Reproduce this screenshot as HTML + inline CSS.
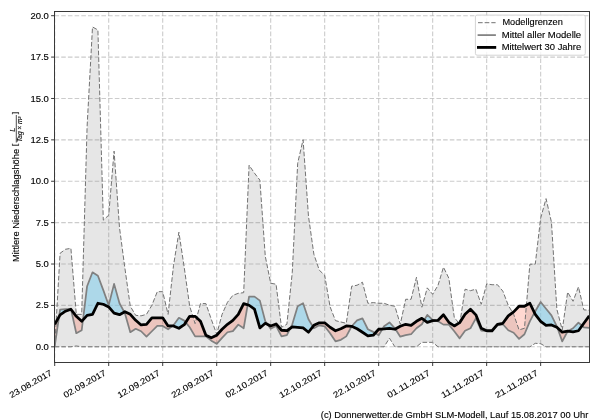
<!DOCTYPE html>
<html><head><meta charset="utf-8"><title>chart</title>
<style>html,body{margin:0;padding:0;background:#fff;width:600px;height:420px;overflow:hidden}
body{position:relative;font-family:"Liberation Sans",sans-serif}</style></head>
<body>
<svg width="600" height="420" viewBox="0 0 600 420" style="position:absolute;left:0;top:0;will-change:transform">
<rect width="600" height="420" fill="#fff"/>
<defs><clipPath id="ax"><rect x="54.5" y="11.5" width="535.0" height="351.0"/></clipPath></defs>
<g clip-path="url(#ax)">
<line x1="54.70" y1="11.5" x2="54.70" y2="362.5" stroke="#b0b0b0" stroke-opacity="0.65" stroke-width="1.11" stroke-dasharray="4.6 2.1"/>
<line x1="108.69" y1="11.5" x2="108.69" y2="362.5" stroke="#b0b0b0" stroke-opacity="0.65" stroke-width="1.11" stroke-dasharray="4.6 2.1"/>
<line x1="162.69" y1="11.5" x2="162.69" y2="362.5" stroke="#b0b0b0" stroke-opacity="0.65" stroke-width="1.11" stroke-dasharray="4.6 2.1"/>
<line x1="216.69" y1="11.5" x2="216.69" y2="362.5" stroke="#b0b0b0" stroke-opacity="0.65" stroke-width="1.11" stroke-dasharray="4.6 2.1"/>
<line x1="270.68" y1="11.5" x2="270.68" y2="362.5" stroke="#b0b0b0" stroke-opacity="0.65" stroke-width="1.11" stroke-dasharray="4.6 2.1"/>
<line x1="324.67" y1="11.5" x2="324.67" y2="362.5" stroke="#b0b0b0" stroke-opacity="0.65" stroke-width="1.11" stroke-dasharray="4.6 2.1"/>
<line x1="378.67" y1="11.5" x2="378.67" y2="362.5" stroke="#b0b0b0" stroke-opacity="0.65" stroke-width="1.11" stroke-dasharray="4.6 2.1"/>
<line x1="432.66" y1="11.5" x2="432.66" y2="362.5" stroke="#b0b0b0" stroke-opacity="0.65" stroke-width="1.11" stroke-dasharray="4.6 2.1"/>
<line x1="486.66" y1="11.5" x2="486.66" y2="362.5" stroke="#b0b0b0" stroke-opacity="0.65" stroke-width="1.11" stroke-dasharray="4.6 2.1"/>
<line x1="540.65" y1="11.5" x2="540.65" y2="362.5" stroke="#b0b0b0" stroke-opacity="0.65" stroke-width="1.11" stroke-dasharray="4.6 2.1"/>
<line x1="54.5" y1="346.80" x2="589.5" y2="346.80" stroke="#b0b0b0" stroke-opacity="0.65" stroke-width="1.11" stroke-dasharray="4.6 2.1"/>
<line x1="54.5" y1="305.41" x2="589.5" y2="305.41" stroke="#b0b0b0" stroke-opacity="0.65" stroke-width="1.11" stroke-dasharray="4.6 2.1"/>
<line x1="54.5" y1="264.02" x2="589.5" y2="264.02" stroke="#b0b0b0" stroke-opacity="0.65" stroke-width="1.11" stroke-dasharray="4.6 2.1"/>
<line x1="54.5" y1="222.64" x2="589.5" y2="222.64" stroke="#b0b0b0" stroke-opacity="0.65" stroke-width="1.11" stroke-dasharray="4.6 2.1"/>
<line x1="54.5" y1="181.25" x2="589.5" y2="181.25" stroke="#b0b0b0" stroke-opacity="0.65" stroke-width="1.11" stroke-dasharray="4.6 2.1"/>
<line x1="54.5" y1="139.86" x2="589.5" y2="139.86" stroke="#b0b0b0" stroke-opacity="0.65" stroke-width="1.11" stroke-dasharray="4.6 2.1"/>
<line x1="54.5" y1="98.48" x2="589.5" y2="98.48" stroke="#b0b0b0" stroke-opacity="0.65" stroke-width="1.11" stroke-dasharray="4.6 2.1"/>
<line x1="54.5" y1="57.09" x2="589.5" y2="57.09" stroke="#b0b0b0" stroke-opacity="0.65" stroke-width="1.11" stroke-dasharray="4.6 2.1"/>
<line x1="54.5" y1="15.70" x2="589.5" y2="15.70" stroke="#b0b0b0" stroke-opacity="0.65" stroke-width="1.11" stroke-dasharray="4.6 2.1"/>
<polygon points="54.70,346.80 60.10,253.26 65.50,249.29 70.90,248.30 76.30,314.35 81.70,314.35 87.10,126.62 92.50,26.96 97.90,29.94 103.30,220.15 108.69,215.19 114.09,151.12 119.49,227.60 124.89,268.16 130.29,306.24 135.69,315.35 141.09,315.84 146.49,314.35 151.89,305.25 157.29,291.67 162.69,291.67 168.09,314.35 173.49,265.68 178.89,232.24 184.29,267.83 189.69,306.24 195.09,323.62 200.49,303.59 205.89,303.59 211.29,319.32 216.69,334.22 222.08,314.35 227.48,302.27 232.88,295.31 238.28,293.33 243.68,292.67 249.08,165.19 254.48,173.14 259.88,180.09 265.28,256.24 270.68,283.23 276.08,284.22 281.48,327.27 286.88,324.29 292.28,272.30 297.68,163.21 303.08,139.70 308.48,216.18 313.88,254.26 319.28,270.15 324.67,275.28 330.07,306.74 335.47,320.64 340.87,321.97 346.27,323.29 351.67,286.21 357.07,285.22 362.47,282.24 367.87,303.26 373.27,302.60 378.67,303.26 384.07,303.26 389.47,305.25 394.87,306.24 400.27,324.29 405.67,299.29 411.07,299.29 416.47,277.27 421.87,307.23 427.27,287.86 432.66,294.32 438.06,285.22 443.46,267.17 448.86,278.26 454.26,317.33 459.66,324.29 465.06,289.19 470.46,290.68 475.86,289.19 481.26,304.25 486.66,283.89 492.06,284.72 497.46,284.72 502.86,291.18 508.26,305.25 513.66,314.35 519.06,329.91 524.46,328.26 529.86,264.19 535.26,264.19 540.65,218.17 546.05,198.63 551.45,222.14 556.85,309.22 562.25,329.91 567.65,292.17 573.05,301.27 578.45,286.87 583.85,309.88 589.25,310.21 589.25,346.80 583.85,346.80 578.45,346.80 573.05,346.80 567.65,346.80 562.25,346.80 556.85,346.80 551.45,346.80 546.05,346.80 540.65,343.65 535.26,343.32 529.86,346.80 524.46,346.80 519.06,346.80 513.66,346.80 508.26,346.80 502.86,346.80 497.46,346.80 492.06,346.80 486.66,346.80 481.26,346.80 475.86,346.80 470.46,346.80 465.06,346.80 459.66,346.80 454.26,346.80 448.86,346.80 443.46,346.80 438.06,346.80 432.66,342.33 427.27,342.33 421.87,342.33 416.47,346.80 411.07,346.80 405.67,346.80 400.27,346.80 394.87,346.80 389.47,338.19 384.07,346.80 378.67,346.80 373.27,346.80 367.87,346.80 362.47,346.80 357.07,346.80 351.67,346.80 346.27,346.80 340.87,346.80 335.47,346.80 330.07,346.80 324.67,346.80 319.28,346.80 313.88,346.80 308.48,346.80 303.08,346.80 297.68,346.80 292.28,346.80 286.88,346.80 281.48,346.80 276.08,346.80 270.68,346.80 265.28,346.80 259.88,346.80 254.48,346.80 249.08,346.80 243.68,346.80 238.28,346.80 232.88,346.80 227.48,346.80 222.08,346.80 216.69,346.80 211.29,346.80 205.89,346.80 200.49,346.80 195.09,346.80 189.69,346.80 184.29,346.80 178.89,346.80 173.49,346.80 168.09,346.80 162.69,346.80 157.29,346.80 151.89,346.80 146.49,346.80 141.09,346.80 135.69,346.80 130.29,346.80 124.89,346.80 119.49,346.80 114.09,346.80 108.69,346.80 103.30,346.80 97.90,346.80 92.50,346.80 87.10,346.80 81.70,346.80 76.30,345.97 70.90,346.80 65.50,346.80 60.10,346.80 54.70,346.80" fill="#808080" fill-opacity="0.2" stroke="none"/>
<path d="M59.08,316.63 L60.10,309.72 L65.50,309.22 L70.90,308.89 L71.00,309.36 L71.00,309.36 L70.90,309.22 L65.50,311.21 L60.10,314.85 L59.08,316.63Z M82.97,319.91 L87.10,286.21 L92.50,272.30 L97.90,275.78 L103.30,290.18 L108.69,305.25 L114.09,283.89 L119.49,303.26 L124.27,312.05 L124.27,312.05 L119.49,314.68 L114.09,313.19 L108.69,306.90 L103.30,304.25 L97.90,303.26 L92.50,314.35 L87.10,315.35 L82.97,319.91Z M172.59,325.94 L173.49,325.28 L178.89,317.83 L184.29,320.64 L185.73,322.41 L185.73,322.41 L184.29,324.62 L178.89,328.26 L173.49,325.94 L172.59,325.94Z M247.69,304.82 L249.08,296.64 L254.48,296.64 L259.88,300.61 L265.28,321.31 L267.51,324.39 L267.51,324.39 L265.28,323.29 L259.88,327.93 L254.48,309.22 L249.08,305.25 L247.69,304.82Z M290.27,328.35 L292.28,324.29 L297.68,306.24 L303.08,303.26 L308.48,319.32 L312.86,326.58 L312.86,326.58 L308.48,332.23 L303.08,327.93 L297.68,327.27 L292.28,326.93 L290.27,328.35Z M351.67,326.27 L357.07,320.31 L362.47,318.33 L367.87,329.25 L373.27,331.90 L375.20,333.08 L375.20,333.08 L373.27,335.21 L367.87,335.87 L362.47,332.23 L357.07,328.76 L351.67,326.27Z M382.41,329.02 L384.07,326.27 L389.47,322.46 L394.87,328.26 L395.34,328.99 L395.34,328.99 L394.87,329.25 L389.47,328.26 L384.07,328.92 L382.41,329.02Z M424.27,320.09 L427.27,314.85 L432.66,319.82 L435.12,320.49 L435.12,320.49 L432.66,320.64 L427.27,322.30 L424.27,320.09Z M534.45,312.71 L535.26,311.21 L540.65,301.94 L546.05,308.72 L551.45,315.35 L556.85,326.27 L557.38,327.75 L557.38,327.75 L556.85,327.27 L551.45,324.95 L546.05,325.28 L540.65,321.31 L535.26,314.35 L534.45,312.71Z M567.65,331.24 L573.05,328.26 L578.45,322.63 L582.08,325.74 L582.08,325.74 L578.45,330.74 L573.05,331.90 L567.65,331.24Z" fill="#87ceeb" fill-opacity="0.6" stroke="none"/>
<path d="M54.70,346.30 L59.08,316.63 L59.08,316.63 L54.70,324.29Z M71.00,309.36 L76.30,333.22 L81.70,330.25 L82.97,319.91 L82.97,319.91 L81.70,321.31 L76.30,316.34 L71.00,309.36Z M124.27,312.05 L124.89,313.19 L130.29,332.23 L135.69,328.76 L141.09,331.24 L146.49,336.70 L151.89,331.24 L157.29,325.94 L162.69,325.94 L168.09,329.25 L172.59,325.94 L172.59,325.94 L168.09,325.94 L162.69,317.83 L157.29,317.83 L151.89,317.83 L146.49,324.29 L141.09,324.95 L135.69,320.31 L130.29,314.35 L124.89,311.70 L124.27,312.05Z M185.73,322.41 L189.69,327.27 L195.09,336.37 L200.49,336.37 L205.89,336.37 L211.29,340.67 L216.69,343.82 L222.08,337.86 L227.48,332.23 L232.88,331.07 L238.28,324.62 L243.68,328.26 L247.69,304.82 L247.69,304.82 L243.68,303.59 L238.28,314.35 L232.88,320.31 L227.48,324.29 L222.08,329.25 L216.69,335.21 L211.29,337.86 L205.89,335.21 L200.49,321.31 L195.09,316.34 L189.69,316.34 L185.73,322.41Z M267.51,324.39 L270.68,328.76 L276.08,325.94 L281.48,336.37 L286.88,335.21 L290.27,328.35 L290.27,328.35 L286.88,330.74 L281.48,330.25 L276.08,323.95 L270.68,325.94 L267.51,324.39Z M312.86,326.58 L313.88,328.26 L319.28,325.28 L324.67,326.27 L330.07,333.22 L335.47,341.34 L340.87,339.85 L346.27,336.37 L351.67,326.27 L351.67,326.27 L346.27,325.94 L340.87,328.76 L335.47,330.74 L330.07,327.27 L324.67,322.80 L319.28,322.80 L313.88,325.28 L312.86,326.58Z M375.20,333.08 L378.67,335.21 L382.41,329.02 L382.41,329.02 L378.67,329.25 L375.20,333.08Z M395.34,328.99 L400.27,336.70 L405.67,335.21 L411.07,334.22 L416.47,328.26 L421.87,324.29 L424.27,320.09 L424.27,320.09 L421.87,318.33 L416.47,321.31 L411.07,325.28 L405.67,324.29 L400.27,326.27 L395.34,328.99Z M435.12,320.49 L438.06,321.31 L443.46,324.62 L448.86,324.62 L454.26,331.24 L459.66,338.36 L465.06,330.74 L470.46,328.26 L475.86,318.33 L481.26,330.74 L486.66,331.24 L492.06,330.74 L492.06,330.74 L486.66,330.74 L481.26,328.26 L475.86,314.85 L470.46,309.22 L465.06,314.35 L459.66,322.63 L454.26,325.94 L448.86,322.30 L443.46,314.68 L438.06,320.31 L435.12,320.49Z M492.06,330.74 L497.46,325.28 L502.86,324.29 L508.26,330.25 L513.66,332.73 L519.06,338.85 L524.46,334.22 L529.86,321.31 L534.45,312.71 L534.45,312.71 L529.86,303.26 L524.46,306.24 L519.06,306.24 L513.66,311.87 L508.26,315.84 L502.86,323.29 L497.46,324.29 L492.06,330.74Z M557.38,327.75 L562.25,341.34 L567.65,331.24 L567.65,331.24 L562.25,332.23 L557.38,327.75Z M582.08,325.74 L583.85,327.27 L589.25,327.93 L589.25,315.84 L583.85,323.29 L582.08,325.74Z" fill="#ff6347" fill-opacity="0.25" stroke="none"/>
<polyline points="54.70,346.80 60.10,253.26 65.50,249.29 70.90,248.30 76.30,314.35 81.70,314.35 87.10,126.62 92.50,26.96 97.90,29.94 103.30,220.15 108.69,215.19 114.09,151.12 119.49,227.60 124.89,268.16 130.29,306.24 135.69,315.35 141.09,315.84 146.49,314.35 151.89,305.25 157.29,291.67 162.69,291.67 168.09,314.35 173.49,265.68 178.89,232.24 184.29,267.83 189.69,306.24 195.09,323.62 200.49,303.59 205.89,303.59 211.29,319.32 216.69,334.22 222.08,314.35 227.48,302.27 232.88,295.31 238.28,293.33 243.68,292.67 249.08,165.19 254.48,173.14 259.88,180.09 265.28,256.24 270.68,283.23 276.08,284.22 281.48,327.27 286.88,324.29 292.28,272.30 297.68,163.21 303.08,139.70 308.48,216.18 313.88,254.26 319.28,270.15 324.67,275.28 330.07,306.74 335.47,320.64 340.87,321.97 346.27,323.29 351.67,286.21 357.07,285.22 362.47,282.24 367.87,303.26 373.27,302.60 378.67,303.26 384.07,303.26 389.47,305.25 394.87,306.24 400.27,324.29 405.67,299.29 411.07,299.29 416.47,277.27 421.87,307.23 427.27,287.86 432.66,294.32 438.06,285.22 443.46,267.17 448.86,278.26 454.26,317.33 459.66,324.29 465.06,289.19 470.46,290.68 475.86,289.19 481.26,304.25 486.66,283.89 492.06,284.72 497.46,284.72 502.86,291.18 508.26,305.25 513.66,314.35 519.06,329.91 524.46,328.26 529.86,264.19 535.26,264.19 540.65,218.17 546.05,198.63 551.45,222.14 556.85,309.22 562.25,329.91 567.65,292.17 573.05,301.27 578.45,286.87 583.85,309.88 589.25,310.21" fill="none" stroke="#727272" stroke-width="1.0" stroke-dasharray="4.65 2.0" stroke-linejoin="round"/>
<polyline points="54.70,346.80 60.10,346.80 65.50,346.80 70.90,346.80 76.30,345.97 81.70,346.80 87.10,346.80 92.50,346.80 97.90,346.80 103.30,346.80 108.69,346.80 114.09,346.80 119.49,346.80 124.89,346.80 130.29,346.80 135.69,346.80 141.09,346.80 146.49,346.80 151.89,346.80 157.29,346.80 162.69,346.80 168.09,346.80 173.49,346.80 178.89,346.80 184.29,346.80 189.69,346.80 195.09,346.80 200.49,346.80 205.89,346.80 211.29,346.80 216.69,346.80 222.08,346.80 227.48,346.80 232.88,346.80 238.28,346.80 243.68,346.80 249.08,346.80 254.48,346.80 259.88,346.80 265.28,346.80 270.68,346.80 276.08,346.80 281.48,346.80 286.88,346.80 292.28,346.80 297.68,346.80 303.08,346.80 308.48,346.80 313.88,346.80 319.28,346.80 324.67,346.80 330.07,346.80 335.47,346.80 340.87,346.80 346.27,346.80 351.67,346.80 357.07,346.80 362.47,346.80 367.87,346.80 373.27,346.80 378.67,346.80 384.07,346.80 389.47,338.19 394.87,346.80 400.27,346.80 405.67,346.80 411.07,346.80 416.47,346.80 421.87,342.33 427.27,342.33 432.66,342.33 438.06,346.80 443.46,346.80 448.86,346.80 454.26,346.80 459.66,346.80 465.06,346.80 470.46,346.80 475.86,346.80 481.26,346.80 486.66,346.80 492.06,346.80 497.46,346.80 502.86,346.80 508.26,346.80 513.66,346.80 519.06,346.80 524.46,346.80 529.86,346.80 535.26,343.32 540.65,343.65 546.05,346.80 551.45,346.80 556.85,346.80 562.25,346.80 567.65,346.80 573.05,346.80 578.45,346.80 583.85,346.80 589.25,346.80" fill="none" stroke="#727272" stroke-width="1.0" stroke-dasharray="4.65 2.0" stroke-linejoin="round"/>
<polyline points="54.70,346.30 60.10,309.72 65.50,309.22 70.90,308.89 76.30,333.22 81.70,330.25 87.10,286.21 92.50,272.30 97.90,275.78 103.30,290.18 108.69,305.25 114.09,283.89 119.49,303.26 124.89,313.19 130.29,332.23 135.69,328.76 141.09,331.24 146.49,336.70 151.89,331.24 157.29,325.94 162.69,325.94 168.09,329.25 173.49,325.28 178.89,317.83 184.29,320.64 189.69,327.27 195.09,336.37 200.49,336.37 205.89,336.37 211.29,340.67 216.69,343.82 222.08,337.86 227.48,332.23 232.88,331.07 238.28,324.62 243.68,328.26 249.08,296.64 254.48,296.64 259.88,300.61 265.28,321.31 270.68,328.76 276.08,325.94 281.48,336.37 286.88,335.21 292.28,324.29 297.68,306.24 303.08,303.26 308.48,319.32 313.88,328.26 319.28,325.28 324.67,326.27 330.07,333.22 335.47,341.34 340.87,339.85 346.27,336.37 351.67,326.27 357.07,320.31 362.47,318.33 367.87,329.25 373.27,331.90 378.67,335.21 384.07,326.27 389.47,322.46 394.87,328.26 400.27,336.70 405.67,335.21 411.07,334.22 416.47,328.26 421.87,324.29 427.27,314.85 432.66,319.82 438.06,321.31 443.46,324.62 448.86,324.62 454.26,331.24 459.66,338.36 465.06,330.74 470.46,328.26 475.86,318.33 481.26,330.74 486.66,331.24 492.06,330.74 497.46,325.28 502.86,324.29 508.26,330.25 513.66,332.73 519.06,338.85 524.46,334.22 529.86,321.31 535.26,311.21 540.65,301.94 546.05,308.72 551.45,315.35 556.85,326.27 562.25,341.34 567.65,331.24 573.05,328.26 578.45,322.63 583.85,327.27 589.25,327.93" fill="none" stroke="#808080" stroke-width="1.74" stroke-linejoin="round"/>
<polyline points="54.70,324.29 60.10,314.85 65.50,311.21 70.90,309.22 76.30,316.34 81.70,321.31 87.10,315.35 92.50,314.35 97.90,303.26 103.30,304.25 108.69,306.90 114.09,313.19 119.49,314.68 124.89,311.70 130.29,314.35 135.69,320.31 141.09,324.95 146.49,324.29 151.89,317.83 157.29,317.83 162.69,317.83 168.09,325.94 173.49,325.94 178.89,328.26 184.29,324.62 189.69,316.34 195.09,316.34 200.49,321.31 205.89,335.21 211.29,337.86 216.69,335.21 222.08,329.25 227.48,324.29 232.88,320.31 238.28,314.35 243.68,303.59 249.08,305.25 254.48,309.22 259.88,327.93 265.28,323.29 270.68,325.94 276.08,323.95 281.48,330.25 286.88,330.74 292.28,326.93 297.68,327.27 303.08,327.93 308.48,332.23 313.88,325.28 319.28,322.80 324.67,322.80 330.07,327.27 335.47,330.74 340.87,328.76 346.27,325.94 351.67,326.27 357.07,328.76 362.47,332.23 367.87,335.87 373.27,335.21 378.67,329.25 384.07,328.92 389.47,328.26 394.87,329.25 400.27,326.27 405.67,324.29 411.07,325.28 416.47,321.31 421.87,318.33 427.27,322.30 432.66,320.64 438.06,320.31 443.46,314.68 448.86,322.30 454.26,325.94 459.66,322.63 465.06,314.35 470.46,309.22 475.86,314.85 481.26,328.26 486.66,330.74 492.06,330.74 497.46,324.29 502.86,323.29 508.26,315.84 513.66,311.87 519.06,306.24 524.46,306.24 529.86,303.26 535.26,314.35 540.65,321.31 546.05,325.28 551.45,324.95 556.85,327.27 562.25,332.23 567.65,331.24 573.05,331.90 578.45,330.74 583.85,323.29 589.25,315.84" fill="none" stroke="#000" stroke-width="2.78" stroke-linejoin="round" stroke-linecap="butt"/>
</g>
<rect x="54.5" y="11.5" width="535.0" height="351.0" fill="none" stroke="#303030" stroke-width="0.95"/>
<line x1="54.70" y1="362.5" x2="54.70" y2="366.0" stroke="#303030" stroke-width="0.95"/>
<line x1="108.69" y1="362.5" x2="108.69" y2="366.0" stroke="#303030" stroke-width="0.95"/>
<line x1="162.69" y1="362.5" x2="162.69" y2="366.0" stroke="#303030" stroke-width="0.95"/>
<line x1="216.69" y1="362.5" x2="216.69" y2="366.0" stroke="#303030" stroke-width="0.95"/>
<line x1="270.68" y1="362.5" x2="270.68" y2="366.0" stroke="#303030" stroke-width="0.95"/>
<line x1="324.67" y1="362.5" x2="324.67" y2="366.0" stroke="#303030" stroke-width="0.95"/>
<line x1="378.67" y1="362.5" x2="378.67" y2="366.0" stroke="#303030" stroke-width="0.95"/>
<line x1="432.66" y1="362.5" x2="432.66" y2="366.0" stroke="#303030" stroke-width="0.95"/>
<line x1="486.66" y1="362.5" x2="486.66" y2="366.0" stroke="#303030" stroke-width="0.95"/>
<line x1="540.65" y1="362.5" x2="540.65" y2="366.0" stroke="#303030" stroke-width="0.95"/>
<line x1="51.1" y1="346.80" x2="54.5" y2="346.80" stroke="#303030" stroke-width="0.95"/>
<line x1="51.1" y1="305.41" x2="54.5" y2="305.41" stroke="#303030" stroke-width="0.95"/>
<line x1="51.1" y1="264.02" x2="54.5" y2="264.02" stroke="#303030" stroke-width="0.95"/>
<line x1="51.1" y1="222.64" x2="54.5" y2="222.64" stroke="#303030" stroke-width="0.95"/>
<line x1="51.1" y1="181.25" x2="54.5" y2="181.25" stroke="#303030" stroke-width="0.95"/>
<line x1="51.1" y1="139.86" x2="54.5" y2="139.86" stroke="#303030" stroke-width="0.95"/>
<line x1="51.1" y1="98.48" x2="54.5" y2="98.48" stroke="#303030" stroke-width="0.95"/>
<line x1="51.1" y1="57.09" x2="54.5" y2="57.09" stroke="#303030" stroke-width="0.95"/>
<line x1="51.1" y1="15.70" x2="54.5" y2="15.70" stroke="#303030" stroke-width="0.95"/>
<text x="48.9" y="349.85" text-anchor="end" font-size="8.5" textLength="13.2" lengthAdjust="spacingAndGlyphs" font-family="Liberation Sans, sans-serif" fill="#000" stroke="#000" stroke-width="0.12">0.0</text>
<text x="48.9" y="308.46" text-anchor="end" font-size="8.5" textLength="13.2" lengthAdjust="spacingAndGlyphs" font-family="Liberation Sans, sans-serif" fill="#000" stroke="#000" stroke-width="0.12">2.5</text>
<text x="48.9" y="267.07" text-anchor="end" font-size="8.5" textLength="13.2" lengthAdjust="spacingAndGlyphs" font-family="Liberation Sans, sans-serif" fill="#000" stroke="#000" stroke-width="0.12">5.0</text>
<text x="48.9" y="225.69" text-anchor="end" font-size="8.5" textLength="13.2" lengthAdjust="spacingAndGlyphs" font-family="Liberation Sans, sans-serif" fill="#000" stroke="#000" stroke-width="0.12">7.5</text>
<text x="48.9" y="184.30" text-anchor="end" font-size="8.5" textLength="18.5" lengthAdjust="spacingAndGlyphs" font-family="Liberation Sans, sans-serif" fill="#000" stroke="#000" stroke-width="0.12">10.0</text>
<text x="48.9" y="142.91" text-anchor="end" font-size="8.5" textLength="18.5" lengthAdjust="spacingAndGlyphs" font-family="Liberation Sans, sans-serif" fill="#000" stroke="#000" stroke-width="0.12">12.5</text>
<text x="48.9" y="101.53" text-anchor="end" font-size="8.5" textLength="18.5" lengthAdjust="spacingAndGlyphs" font-family="Liberation Sans, sans-serif" fill="#000" stroke="#000" stroke-width="0.12">15.0</text>
<text x="48.9" y="60.14" text-anchor="end" font-size="8.5" textLength="18.5" lengthAdjust="spacingAndGlyphs" font-family="Liberation Sans, sans-serif" fill="#000" stroke="#000" stroke-width="0.12">17.5</text>
<text x="48.9" y="18.75" text-anchor="end" font-size="8.5" textLength="18.5" lengthAdjust="spacingAndGlyphs" font-family="Liberation Sans, sans-serif" fill="#000" stroke="#000" stroke-width="0.12">20.0</text>
<text transform="translate(52.70,374.50) rotate(-30)" text-anchor="end" font-size="8.5" textLength="47.7" lengthAdjust="spacingAndGlyphs" font-family="Liberation Sans, sans-serif" fill="#000" stroke="#000" stroke-width="0.12">23.08.2017</text>
<text transform="translate(106.69,374.50) rotate(-30)" text-anchor="end" font-size="8.5" textLength="47.7" lengthAdjust="spacingAndGlyphs" font-family="Liberation Sans, sans-serif" fill="#000" stroke="#000" stroke-width="0.12">02.09.2017</text>
<text transform="translate(160.69,374.50) rotate(-30)" text-anchor="end" font-size="8.5" textLength="47.7" lengthAdjust="spacingAndGlyphs" font-family="Liberation Sans, sans-serif" fill="#000" stroke="#000" stroke-width="0.12">12.09.2017</text>
<text transform="translate(214.69,374.50) rotate(-30)" text-anchor="end" font-size="8.5" textLength="47.7" lengthAdjust="spacingAndGlyphs" font-family="Liberation Sans, sans-serif" fill="#000" stroke="#000" stroke-width="0.12">22.09.2017</text>
<text transform="translate(268.68,374.50) rotate(-30)" text-anchor="end" font-size="8.5" textLength="47.7" lengthAdjust="spacingAndGlyphs" font-family="Liberation Sans, sans-serif" fill="#000" stroke="#000" stroke-width="0.12">02.10.2017</text>
<text transform="translate(322.67,374.50) rotate(-30)" text-anchor="end" font-size="8.5" textLength="47.7" lengthAdjust="spacingAndGlyphs" font-family="Liberation Sans, sans-serif" fill="#000" stroke="#000" stroke-width="0.12">12.10.2017</text>
<text transform="translate(376.67,374.50) rotate(-30)" text-anchor="end" font-size="8.5" textLength="47.7" lengthAdjust="spacingAndGlyphs" font-family="Liberation Sans, sans-serif" fill="#000" stroke="#000" stroke-width="0.12">22.10.2017</text>
<text transform="translate(430.66,374.50) rotate(-30)" text-anchor="end" font-size="8.5" textLength="47.7" lengthAdjust="spacingAndGlyphs" font-family="Liberation Sans, sans-serif" fill="#000" stroke="#000" stroke-width="0.12">01.11.2017</text>
<text transform="translate(484.66,374.50) rotate(-30)" text-anchor="end" font-size="8.5" textLength="47.7" lengthAdjust="spacingAndGlyphs" font-family="Liberation Sans, sans-serif" fill="#000" stroke="#000" stroke-width="0.12">11.11.2017</text>
<text transform="translate(538.65,374.50) rotate(-30)" text-anchor="end" font-size="8.5" textLength="47.7" lengthAdjust="spacingAndGlyphs" font-family="Liberation Sans, sans-serif" fill="#000" stroke="#000" stroke-width="0.12">21.11.2017</text>
<g transform="translate(18.8,262) rotate(-90)"><text x="0" y="0" font-size="8.5" textLength="113.2" lengthAdjust="spacingAndGlyphs" font-family="Liberation Sans, sans-serif" fill="#000" stroke="#000" stroke-width="0.12">Mittlere Niederschlagshöhe</text><text x="116.0" y="-1.6" font-size="8" font-family="Liberation Sans, sans-serif" fill="#000" stroke="#000" stroke-width="0.12">[</text><text x="132.3" y="-3.9" font-size="7.2" font-style="italic" text-anchor="middle" font-family="Liberation Sans, sans-serif" fill="#000" stroke="#000" stroke-width="0.12">L</text><line x1="119.5" x2="147" y1="-2.5" y2="-2.5" stroke="#000" stroke-width="0.7"/><text x="120" y="3.5" font-size="6.8" font-style="italic" textLength="25.5" lengthAdjust="spacingAndGlyphs" font-family="Liberation Sans, sans-serif" fill="#000" stroke="#000" stroke-width="0.12">Tag × m²</text><text x="147.8" y="-1.6" font-size="8" font-family="Liberation Sans, sans-serif" fill="#000" stroke="#000" stroke-width="0.12">]</text></g>
<rect x="475.4" y="15.1" width="109.9" height="40.1" rx="1.7" fill="#fff" fill-opacity="0.8" stroke="#ccc" stroke-opacity="0.85" stroke-width="1.0"/>
<line x1="478" x2="495.6" y1="22.7" y2="22.7" stroke="#727272" stroke-width="1.0" stroke-dasharray="4.65 2.0"/>
<line x1="477.6" x2="495.9" y1="35.1" y2="35.1" stroke="#808080" stroke-width="1.74"/>
<line x1="477.0" x2="496.2" y1="47.4" y2="47.4" stroke="#000" stroke-width="2.85"/>
<text x="502.4" y="25.4" font-size="8.5" textLength="60.4" lengthAdjust="spacingAndGlyphs" font-family="Liberation Sans, sans-serif" fill="#000" stroke="#000" stroke-width="0.12">Modellgrenzen</text>
<text x="501.7" y="37.9" font-size="8.5" textLength="79.5" lengthAdjust="spacingAndGlyphs" font-family="Liberation Sans, sans-serif" fill="#000" stroke="#000" stroke-width="0.12">Mittel aller Modelle</text>
<text x="501.7" y="50.3" font-size="8.5" textLength="79.5" lengthAdjust="spacingAndGlyphs" font-family="Liberation Sans, sans-serif" fill="#000" stroke="#000" stroke-width="0.12">Mittelwert 30 Jahre</text>
<text x="320.8" y="418.1" font-size="8.6" textLength="267.5" lengthAdjust="spacingAndGlyphs" font-family="Liberation Sans, sans-serif" fill="#000" stroke="#000" stroke-width="0.12">(c) Donnerwetter.de GmbH SLM-Modell, Lauf 15.08.2017 00 Uhr</text>
</svg>
</body></html>
